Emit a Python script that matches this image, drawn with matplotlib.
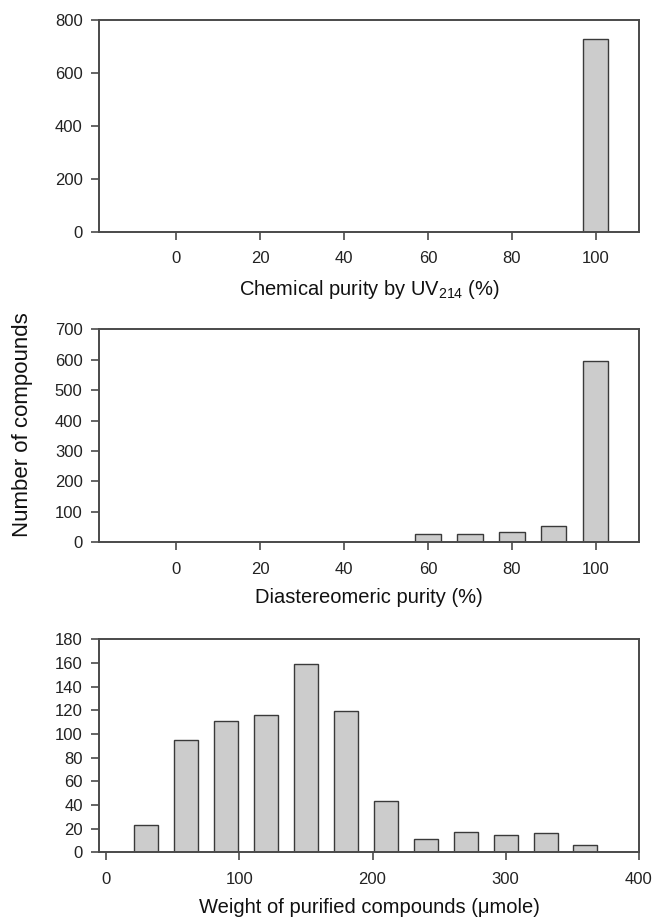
import matplotlib
matplotlib.use("Agg")
import matplotlib.pyplot as plt

plt.rcParams['font.family'] = ['Liberation Sans', 'DejaVu Sans']
plt.rcParams['mathtext.fontset'] = 'custom'
plt.rcParams['mathtext.rm'] = 'Liberation Sans'
plt.rcParams['mathtext.it'] = 'Liberation Sans'

# 데이터
uv_purity = [100]
uv_counts = [730]

dia_purity = [60, 70, 80, 90, 100]
dia_counts = [26, 26, 35, 52, 595]

weight_bins = [30, 60, 90, 120, 150, 180, 210, 240, 270, 300, 330, 360]
weight_counts = [23, 95, 111, 116, 159, 119, 43, 11, 17, 15, 16, 6]

purity_ticks = [0, 20, 40, 60, 80, 100]
weight_ticks = [0, 100, 200, 300, 400]

bar_face = '#cccccc'
bar_edge = '#3a3a3a'
line_col = '#4a4a4a'

fig = plt.figure(figsize=(6.55, 9.24), dpi=100)

left, width = 0.1516, 0.8235
ax1 = fig.add_axes([left, 0.7489, width, 0.2295])
ax2 = fig.add_axes([left, 0.4131, width, 0.2305])
ax3 = fig.add_axes([left, 0.0776, width, 0.2305])


def style(ax):
    for s in ax.spines.values():
        s.set_color(line_col)
        s.set_linewidth(1.4)
    ax.tick_params(direction='out', length=6, width=1.2, color=line_col,
                   labelsize=12, labelcolor='#222222')
    ax.tick_params(axis='x', pad=8)
    ax.tick_params(axis='y', pad=6)


# 화학적 순도
ax1.bar(uv_purity, uv_counts, width=6, color=bar_face, edgecolor=bar_edge, linewidth=1)
ax1.set_xlim(-18.3, 110.2)
ax1.set_ylim(0, 800)
ax1.set_xticks(purity_ticks)
ax1.set_yticks(range(0, 801, 200))
ax1.set_xlabel('Chemical purity by UV$_{214}$ (%)', fontsize=14.5, labelpad=8, color='#111111')
style(ax1)

# 부분입체이성질체 순도
ax2.bar(dia_purity, dia_counts, width=6, color=bar_face, edgecolor=bar_edge, linewidth=1)
ax2.set_xlim(-18.3, 110.2)
ax2.set_ylim(0, 700)
ax2.set_xticks(purity_ticks)
ax2.set_yticks(range(0, 701, 100))
ax2.set_xlabel('Diastereomeric purity (%)', fontsize=14.5, labelpad=8, color='#111111')
style(ax2)

# 정제된 화합물의 양
ax3.bar(weight_bins, weight_counts, width=18, color=bar_face, edgecolor=bar_edge, linewidth=1)
ax3.set_xlim(-5.3, 400)
ax3.set_ylim(0, 180)
ax3.set_xticks(weight_ticks)
ax3.set_yticks(range(0, 181, 20))
ax3.set_xlabel('Weight of purified compounds (\u03bcmole)', fontsize=14.5, labelpad=8, color='#111111')
style(ax3)

fig.text(0.034, 0.54, 'Number of compounds', rotation=90, fontsize=16,
         ha='center', va='center', color='#111111')

fig.savefig('out.png', dpi=100)
